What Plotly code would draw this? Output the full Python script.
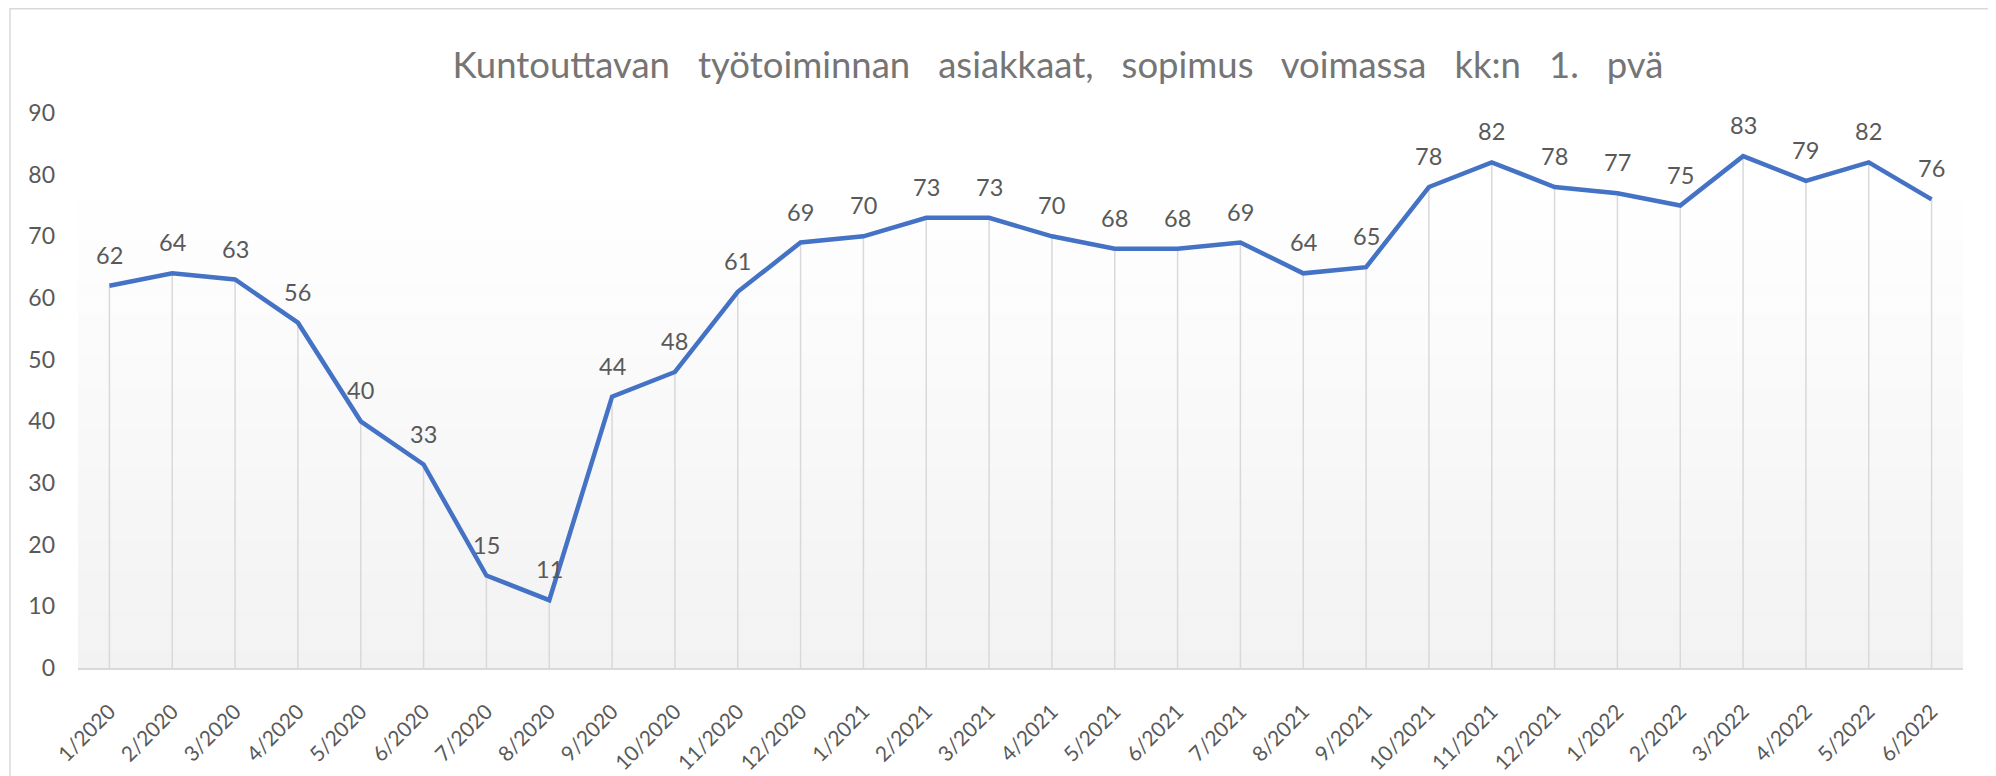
import plotly.graph_objects as go

categories = ["1/2020", "2/2020", "3/2020", "4/2020", "5/2020", "6/2020", "7/2020", "8/2020",
              "9/2020", "10/2020", "11/2020", "12/2020", "1/2021", "2/2021", "3/2021", "4/2021",
              "5/2021", "6/2021", "7/2021", "8/2021", "9/2021", "10/2021", "11/2021", "12/2021",
              "1/2022", "2/2022", "3/2022", "4/2022", "5/2022", "6/2022"]
values = [62, 64, 63, 56, 40, 33, 15, 11, 44, 48, 61, 69, 70, 73, 73, 70, 68, 68, 69, 64,
          65, 78, 82, 78, 77, 75, 83, 79, 82, 76]
y_ticks = [0, 10, 20, 30, 40, 50, 60, 70, 80, 90]
title_words = ["Kuntouttavan", "työtoiminnan", "asiakkaat,", "sopimus", "voimassa", "kk:n", "1.", "pvä"]

# page has an 8px body margin, so the figure is placed at (8, 8)
W, H = 1988, 768
L, R, T, B = 70, 33, 105, 108
pw, ph = W - L - R, H - T - B

FONT = "Lato"
GRAY = "#595959"

fig = go.Figure()

# drop lines
fig.add_trace(go.Scatter(
    x=categories, y=values, mode="markers",
    marker=dict(size=1, color="rgba(0,0,0,0)"),
    error_y=dict(type="data", symmetric=False, array=[0] * len(values), arrayminus=values,
                 color="#d9d9d9", thickness=1.5, width=0),
    hoverinfo="skip", showlegend=False,
))

# main line
fig.add_trace(go.Scatter(
    x=categories, y=values, mode="lines",
    line=dict(color="#4472C4", width=4.5),
    showlegend=False,
))

# data labels
for c, v in zip(categories, values):
    fig.add_annotation(x=c, y=v, text=str(v), showarrow=False, yshift=31,
                       xanchor="center", yanchor="middle",
                       font=dict(family=FONT, size=23.5, color=GRAY))


def px_x(x):
    return (x - L) / pw


def px_y(y):
    return (H - B - y) / ph


shapes = []
# chart frame
shapes.append(dict(type="rect", xref="paper", yref="paper",
                   x0=px_x(2), x1=px_x(1984), y0=px_y(800), y1=px_y(0.75),
                   line=dict(color="#d9d9d9", width=1.5), fillcolor="rgba(0,0,0,0)",
                   layer="below"))
# gradient background of plot area
n = 60
top = px_y(177)
for i in range(n):
    f0 = i / n
    f1 = (i + 1) / n
    t = 1 - (f0 + f1) / 2  # 1 at bottom, 0 at top
    c = int(round(255 - (255 - 242) * t))
    shapes.append(dict(type="rect", xref="paper", yref="paper",
                       x0=0, x1=1, y0=top * f0, y1=top * f1 + 0.001,
                       line=dict(width=0), fillcolor=f"rgb({c},{c},{c})",
                       layer="below"))

title_text = "\u00a0\u00a0\u00a0".join(title_words)

fig.update_layout(
    width=W, height=H,
    margin=dict(l=L, r=R, t=T, b=B, autoexpand=False),
    paper_bgcolor="white", plot_bgcolor="rgba(0,0,0,0)",
    shapes=shapes,
    title=dict(text=title_text, x=1050 / W, xanchor="center",
               y=1 - 57.5 / H, yanchor="middle", automargin=False,
               font=dict(family=FONT, size=36.5, color="#757575")),
    xaxis=dict(type="category", range=[-0.5, len(categories) - 0.5], automargin=False,
               showgrid=False, showline=True, linecolor="#d9d9d9", linewidth=2,
               ticks="", tickangle=-45, ticklabelstandoff=21,
               tickfont=dict(family=FONT, size=21, color=GRAY), fixedrange=True),
    yaxis=dict(range=[0, 90], tickvals=y_ticks, showgrid=False, showline=False,
               automargin=False,
               zeroline=False, ticks="", ticklabelstandoff=22,
               tickfont=dict(family=FONT, size=23, color=GRAY), fixedrange=True),
    hovermode=False,
)

fig.write_html("out.html")
